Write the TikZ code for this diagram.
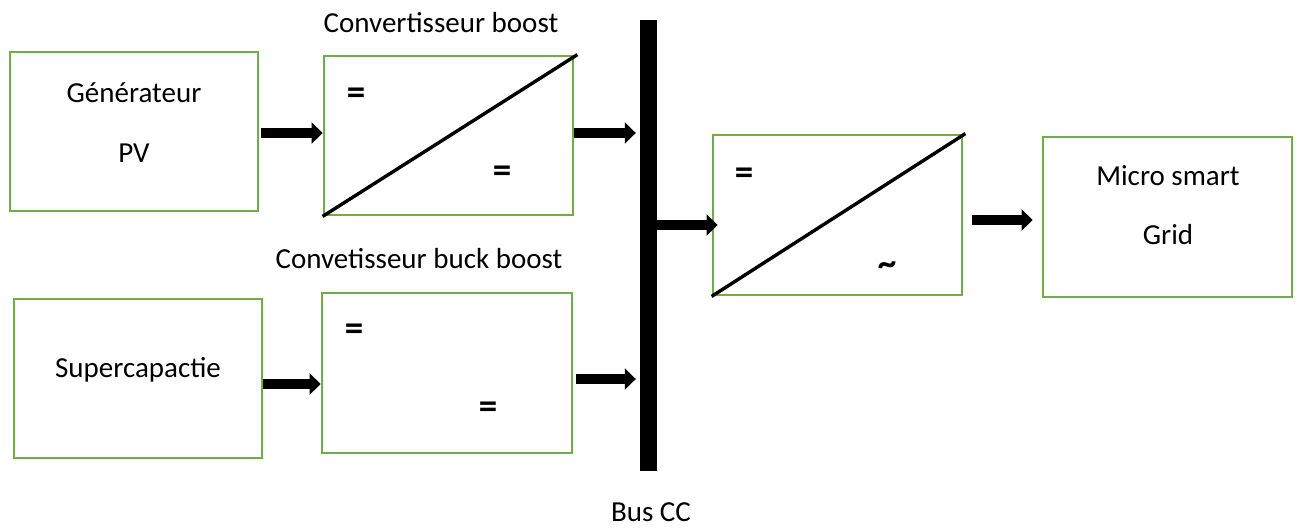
\documentclass[tikz,border=0pt]{standalone}
\usepackage{fontspec}
\setmainfont{Carlito}
\usetikzlibrary{arrows.meta,calc}
\definecolor{boxgreen}{HTML}{70AD47}
\begin{document}
\begin{tikzpicture}[x=1pt,y=-1pt,
  block/.style={draw=boxgreen,line width=2.8pt,fill=white,rectangle,inner sep=0pt},
  lbl/.style={font=\fontsize{29}{35}\selectfont,inner sep=0pt,anchor=base},
  sym/.style={font=\bfseries\fontsize{37}{40}\selectfont,inner sep=0pt},
  flow/.style={line width=10pt,-{Triangle[width=21pt,length=11pt]}},
  diag/.style={line width=3.4pt}]
\useasboundingbox (0,0) rectangle (1299,528);

% blocks
\node[block,minimum width=248pt,minimum height=159pt] (pv)    at (134,131.5) {};
\node[block,minimum width=249pt,minimum height=159pt] (boost) at (448.5,135.5) {};
\node[block,minimum width=248pt,minimum height=159pt] (sc)    at (138,378.5) {};
\node[block,minimum width=250pt,minimum height=160pt] (buck)  at (447,373) {};
\node[block,minimum width=249pt,minimum height=160pt] (inv)   at (837.5,215) {};
\node[block,minimum width=249pt,minimum height=160pt] (grid)  at (1167.5,217) {};

% DC bus bar
\node[fill=black,minimum width=17pt,minimum height=451pt,inner sep=0pt] (bus) at (648.5,245.5) {};

% converter diagonals
\draw[diag] (boost.south west) -- ($(boost.north east)+(3,0)$);
\draw[diag] (inv.south west) -- ($(inv.north east)+(2,0)$);

% texts
\node[lbl] (tboost) at (441,32) {Convertisseur boost};
\node[lbl] (tbuck)  at (419,268) {Convetisseur buck boost};
\node[lbl] (tbus)   at (651,521) {Bus CC};
\node[lbl] (tpv1)   at (134,102) {Générateur};
\node[lbl] (tpv2)   at (134,162) {PV};
\node[lbl] (tsc)    at (138,377) {Supercapactie};
\node[lbl] (tg1)    at (1168,185) {Micro smart};
\node[lbl] (tg2)    at (1168,244) {Grid};

% conversion symbols
\node[sym] (b1) at (356,96) {=};
\node[sym] (b2) at (502,174) {=};
\node[sym] (k1) at (354,332) {=};
\node[sym] (k2) at (488,410) {=};
\node[sym] (i1) at (744,176) {=};
\node[sym] (i2) at (887,269) {\char"007E};

% power flow arrows
\draw[flow] ($(pv.east)+(2,1.5)$) -- ($(boost.west)+(0,-2.5)$);
\draw[flow] ($(boost.east)+(0,-2.5)$) -- ($(bus.west|-boost.east)+(-4,-2.5)$);
\draw[flow] ($(sc.east)+(0,5.5)$) -- ($(buck.west)+(0,11)$);
\draw[flow] ($(buck.east)+(3,6)$) -- ($(bus.west|-buck.east)+(-4,6)$);
\draw[flow] ($(bus.east|-inv.west)+(0,10)$) -- ($(inv.west)+(6,10)$);
\draw[flow,shorten <=9pt,shorten >=9pt] ($(inv.east)+(0,5)$) -- ($(grid.west|-inv.east)+(0,5)$);
\end{tikzpicture}
\end{document}
